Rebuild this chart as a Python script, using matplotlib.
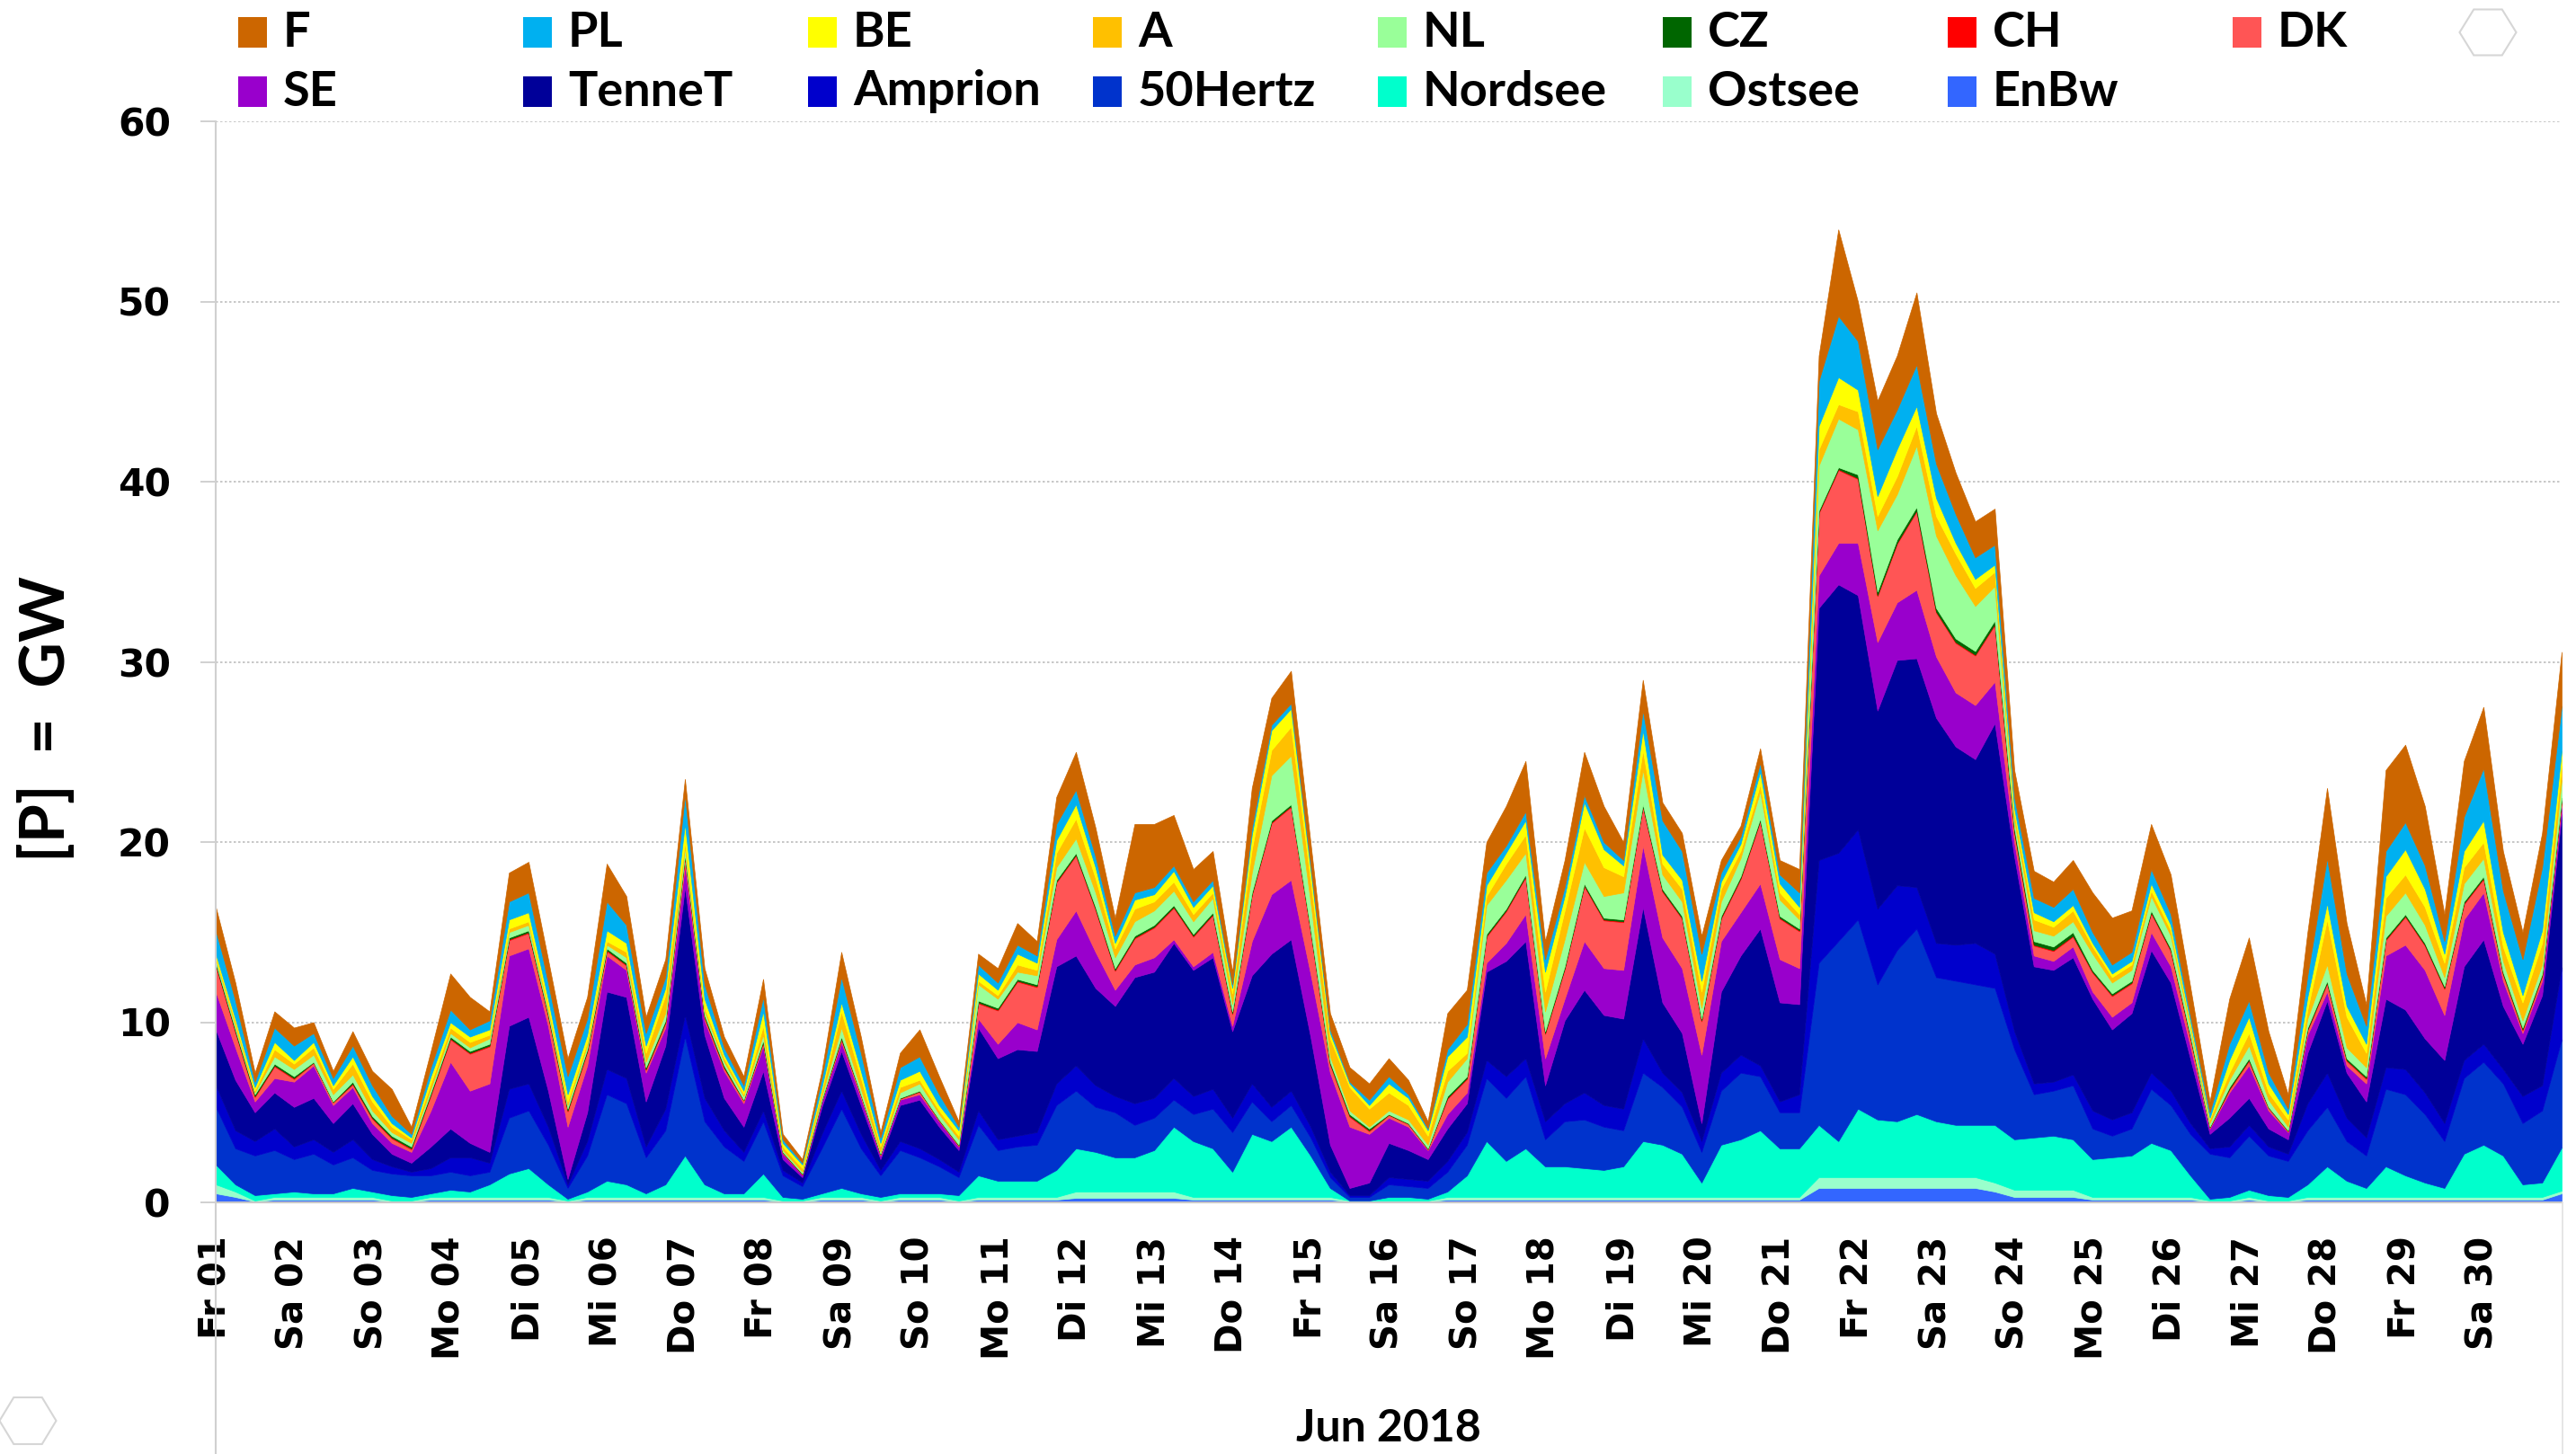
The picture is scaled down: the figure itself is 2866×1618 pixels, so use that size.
import pandas as pd
import matplotlib
matplotlib.use("Agg")
import matplotlib.pyplot as plt
from matplotlib.patches import Rectangle, Polygon
from matplotlib.lines import Line2D

# 6-hourly values in GW, 01.06.2018 00:00 .. 01.07.2018 00:00
times = pd.date_range("2018-06-01 00:00", "2018-07-01 00:00", freq="6h")

enbw = [
    .5, .3, .05, .15, .15, .15, .15, .15, .15, .05, .05, .15,
    .15, .15, .15, .15, .15, .15, .05, .15, .15, .15, .15, .15,
    .15, .15, .15, .15, .15, .05, .05, .15, .15, .15, .05, .15,
    .15, .15, .05, .15, .15, .15, .15, .15, .25, .25, .25, .25,
    .25, .25, .15, .15, .15, .15, .15, .15, .15, .15, .05, .05,
    .05, .05, .05, .15, .15, .15, .15, .15, .15, .15, .15, .15,
    .15, .15, .15, .15, .15, .15, .15, .15, .15, .15, .8, .8,
    .8, .8, .8, .8, .8, .8, .8, .6, .3, .3, .3, .3,
    .15, .15, .15, .15, .15, .15, .05, .05, .15, .05, .05, .15,
    .15, .15, .15, .15, .15, .15, .15, .15, .15, .15, .15, .15,
    .5]
ostsee = [
    .5, .3, .05, .15, .15, .15, .15, .15, .15, .05, .05, .15,
    .15, .15, .15, .15, .15, .15, .05, .15, .15, .15, .15, .15,
    .15, .15, .15, .15, .15, .05, .05, .15, .15, .15, .05, .15,
    .15, .15, .05, .15, .15, .15, .15, .15, .35, .35, .35, .35,
    .35, .35, .15, .15, .15, .15, .15, .15, .15, .15, .05, .05,
    .05, .05, .05, .15, .15, .15, .15, .15, .15, .15, .15, .15,
    .15, .15, .15, .15, .15, .15, .15, .15, .15, .15, .6, .6,
    .6, .6, .6, .6, .6, .6, .6, .5, .4, .4, .4, .4,
    .15, .15, .15, .15, .15, .15, .05, .05, .15, .05, .05, .15,
    .15, .15, .15, .15, .15, .15, .15, .15, .15, .15, .15, .15,
    .15]
nordsee = [
    1.1, 0.4, 0.3, 0.2, 0.3, 0.2, 0.2, 0.5, 0.3, 0.3, 0.2, 0.2,
    0.4, 0.3, 0.7, 1.3, 1.6, 0.7, 0.1, 0.3, 0.9, 0.7, 0.2, 0.7,
    2.3, 0.7, 0.2, 0.2, 1.3, 0.2, 0.1, 0.2, 0.5, 0.2, 0.2, 0.2,
    0.2, 0.2, 0.3, 1.2, 0.9, 0.9, 0.9, 1.5, 2.4, 2.2, 1.9, 1.9,
    2.3, 3.6, 3.1, 2.7, 1.4, 3.5, 3.1, 3.9, 2.3, 0.5, 0.0, 0.0,
    0.2, 0.2, 0.1, 0.3, 1.2, 3.1, 2.0, 2.7, 1.7, 1.7, 1.6, 1.5,
    1.7, 3.1, 2.9, 2.4, 0.8, 2.9, 3.2, 3.7, 2.7, 2.7, 2.9, 2.0,
    3.8, 3.2, 3.1, 3.5, 3.1, 2.9, 2.9, 3.2, 2.8, 2.9, 3.0, 2.8,
    2.1, 2.2, 2.3, 3.0, 2.6, 1.2, 0.1, 0.2, 0.4, 0.3, 0.2, 0.7,
    1.7, 0.9, 0.5, 1.7, 1.2, 0.8, 0.5, 2.4, 2.9, 2.3, 0.7, 0.8,
    2.4]
hertz50 = [
    3.2, 2.0, 2.2, 2.4, 1.8, 2.2, 1.6, 1.7, 1.2, 1.2, 1.2, 1.0,
    1.0, 0.9, 0.7, 3.1, 3.2, 2.2, 0.6, 2.0, 4.8, 4.5, 2.0, 3.0,
    6.6, 3.5, 2.6, 1.8, 2.9, 1.2, 0.7, 2.5, 4.4, 2.5, 1.2, 2.4,
    2.0, 1.5, 1.0, 2.8, 1.7, 1.9, 2.0, 3.6, 3.2, 2.5, 2.5, 1.8,
    1.8, 1.5, 1.5, 2.2, 2.2, 1.8, 1.1, 1.2, 1.0, 0.6, 0.2, 0.2,
    0.7, 0.6, 0.6, 1.1, 1.7, 3.5, 3.5, 4.0, 1.5, 2.5, 2.7, 2.4,
    2.0, 3.8, 3.2, 2.6, 1.7, 3.0, 3.7, 3.0, 2.0, 2.0, 9.0, 11.1,
    10.5, 7.5, 9.5, 10.3, 8.0, 8.0, 7.8, 7.6, 5.0, 2.4, 2.5, 3.0,
    1.7, 1.2, 1.5, 3.0, 2.5, 2.3, 2.5, 2.2, 3.0, 2.2, 2.0, 3.0,
    3.3, 2.2, 1.8, 4.3, 4.5, 3.8, 2.6, 4.2, 4.6, 4.0, 3.4, 4.0,
    6.0]
amprion = [
    1.2, 1.0, 0.8, 1.2, 0.7, 0.8, 0.7, 1.0, 0.6, 0.4, 0.2, 0.4,
    0.8, 1.0, 0.5, 1.6, 1.5, 1.0, 0.2, 0.8, 1.4, 1.4, 0.6, 1.2,
    1.2, 1.3, 0.9, 0.5, 0.6, 0.3, 0.2, 0.8, 1.0, 0.8, 0.3, 0.5,
    0.5, 0.4, 0.3, 0.8, 0.6, 0.6, 0.7, 1.2, 1.4, 1.2, 0.9, 1.2,
    1.1, 1.2, 1.0, 1.1, 0.8, 1.0, 0.8, 0.8, 0.6, 0.3, 0.1, 0.1,
    0.4, 0.4, 0.4, 0.6, 0.7, 1.0, 1.2, 1.0, 1.0, 1.0, 1.5, 1.2,
    1.2, 1.9, 0.8, 0.8, 0.6, 1.0, 1.0, 0.6, 0.6, 1.0, 5.7, 4.9,
    5.0, 4.2, 3.6, 2.3, 1.9, 2.0, 2.3, 1.9, 1.0, 0.6, 0.5, 0.6,
    1.0, 0.9, 0.9, 0.9, 0.8, 0.6, 0.3, 0.6, 0.6, 0.5, 0.4, 1.5,
    1.9, 1.3, 1.0, 1.2, 1.4, 1.2, 1.0, 1.0, 1.0, 0.8, 1.5, 1.4,
    4.0]
tennet = [
    3.1, 2.8, 1.6, 2.0, 2.2, 2.3, 1.6, 2.0, 1.4, 0.7, 0.5, 1.2,
    1.6, 0.8, 0.6, 3.5, 3.7, 2.0, 0.3, 1.6, 4.3, 4.5, 2.5, 3.5,
    7.1, 3.5, 1.8, 1.4, 2.2, 0.6, 0.3, 1.5, 2.2, 1.6, 0.6, 2.0,
    2.7, 1.8, 1.2, 4.6, 4.5, 4.8, 4.5, 6.5, 6.1, 5.4, 5.0, 7.0,
    7.0, 7.5, 7.0, 7.3, 4.8, 6.0, 8.5, 8.4, 5.0, 1.5, 0.4, 0.7,
    1.9, 1.6, 1.2, 1.8, 1.6, 4.9, 6.4, 6.5, 2.0, 4.6, 5.7, 5.0,
    5.0, 7.3, 3.9, 3.3, 1.0, 4.5, 5.5, 7.6, 5.5, 5.0, 14.0, 14.9,
    13.0, 11.0, 12.5, 12.7, 12.5, 11.0, 10.2, 12.8, 9.7, 6.5, 6.2, 6.5,
    6.2, 5.0, 5.5, 6.8, 6.0, 3.6, 0.8, 1.6, 1.5, 1.0, 0.8, 2.8,
    4.0, 2.5, 2.0, 3.8, 3.3, 3.0, 3.5, 5.2, 5.8, 3.5, 2.9, 5.0,
    8.5]
se = [
    2.1, 1.8, 0.6, 0.8, 1.4, 1.8, 1.0, 0.9, 0.6, 0.6, 0.6, 2.0,
    3.7, 2.9, 3.8, 3.9, 3.8, 3.6, 2.9, 2.6, 2.0, 1.5, 1.6, 1.0,
    1.2, 0.8, 1.5, 1.3, 1.4, 0.3, 0.15, 0.3, 0.5, 0.4, 0.2, 0.3,
    0.3, 0.3, 0.2, 0.5, 0.8, 1.5, 1.2, 1.5, 2.5, 2.0, 0.9, 0.7,
    0.8, 0.2, 0.2, 0.3, 0.3, 1.9, 3.3, 3.3, 3.5, 4.0, 3.4, 2.7,
    1.4, 1.3, 0.5, 0.8, 0.6, 0.5, 1.0, 1.5, 1.5, 1.2, 2.7, 2.6,
    2.7, 3.4, 3.6, 3.6, 3.8, 2.8, 2.4, 2.5, 2.4, 2.0, 1.8, 2.3,
    2.9, 3.8, 3.2, 3.8, 3.4, 3.0, 3.0, 2.3, 0.8, 0.6, 0.5, 0.6,
    0.4, 0.7, 0.6, 1.0, 0.9, 0.7, 0.3, 1.4, 1.8, 1.0, 0.4, 1.0,
    0.5, 0.4, 1.0, 2.4, 3.6, 3.8, 2.5, 2.6, 2.6, 1.4, 0.6, 0.8,
    0.5]
dk = [
    1.45, 0.85, 0.25, 0.65, 0.15, 0.15, 0.15, 0.15, 0.25, 0.25, 0.15, 0.85,
    1.25, 2.05, 2.05, 0.85, 0.85, 0.55, 0.85, 0.75, 0.25, 0.25, 0.15, 0.25,
    0.45, 0.15, 0.15, 0.15, 0.15, 0.05, 0.0, 0.05, 0.15, 0.15, 0.05, 0.05,
    0.15, 0.05, 0.05, 0.85, 1.85, 2.25, 2.35, 3.15, 3.05, 2.35, 1.05, 1.45,
    1.65, 1.75, 1.65, 2.05, 0.65, 2.55, 3.95, 4.05, 2.35, 0.45, 0.55, 0.15,
    0.15, 0.15, 0.05, 0.85, 0.75, 1.45, 1.75, 2.05, 1.35, 1.65, 3.05, 2.65,
    2.65, 2.15, 2.55, 2.75, 1.85, 1.25, 1.85, 3.45, 2.25, 2.05, 3.45, 4.05,
    3.55, 2.55, 3.25, 4.35, 2.45, 2.75, 2.75, 3.15, 0.55, 0.55, 0.55, 0.55,
    1.05, 1.15, 1.05, 1.05, 0.85, 0.45, 0.05, 0.15, 0.25, 0.15, 0.05, 0.25,
    0.45, 0.25, 0.25, 0.85, 1.55, 1.35, 1.45, 0.85, 0.75, 0.35, 0.15, 0.25,
    0.25]
ch = [
    .05, .05, .05, .05, .05, .02, .02, .05, .05, .05, .05, .05,
    .05, .05, .05, .05, .05, .05, .05, .05, .05, .05, .05, .05,
    .05, .05, .05, .02, .05, .02, .02, .02, .05, .02, .02, .02,
    .02, .02, .02, .05, .05, .05, .05, .05, .05, .05, .05, .05,
    .05, .05, .05, .05, .05, .05, .05, .05, .05, .05, .05, .05,
    .02, .02, .02, .05, .05, .05, .05, .05, .05, .05, .05, .05,
    .05, .05, .05, .05, .05, .05, .05, .05, .05, .05, .05, .05,
    .05, .05, .05, .05, .05, .05, .05, .05, .05, .05, .05, .05,
    .05, .05, .05, .05, .05, .05, .02, .05, .05, .02, .02, .05,
    .05, .05, .05, .05, .05, .05, .05, .05, .05, .05, .05, .05,
    .05]
cz = [
    .1, .1, .1, .1, .1, .03, .03, .1, .1, .1, .1, .1,
    .1, .1, .1, .1, .1, .1, .1, .1, .1, .1, .1, .1,
    .1, .1, .1, .03, .1, .03, .03, .03, .1, .03, .03, .03,
    .03, .03, .03, .1, .1, .1, .1, .1, .1, .1, .1, .1,
    .1, .1, .1, .1, .1, .1, .1, .1, .1, .1, .1, .1,
    .03, .03, .03, .1, .1, .1, .1, .1, .1, .1, .1, .1,
    .1, .1, .1, .1, .1, .1, .1, .1, .1, .1, .1, .1,
    .2, .2, .2, .2, .2, .2, .2, .2, .2, .2, .2, .2,
    .1, .1, .1, .1, .1, .1, .03, .1, .1, .03, .03, .1,
    .1, .1, .1, .1, .1, .1, .1, .1, .1, .1, .1, .1,
    .1]
nl = [
    0.2, 0.2, 0.1, 0.4, 0.4, 0.4, 0.4, 0.4, 0.3, 0.2, 0.2, 0.2,
    0.2, 0.2, 0.3, 0.3, 0.3, 0.2, 0.2, 0.2, 0.2, 0.3, 0.3, 0.4,
    0.4, 0.2, 0.2, 0.2, 0.3, 0.1, 0.1, 0.2, 0.5, 0.3, 0.1, 0.3,
    0.4, 0.3, 0.3, 0.9, 0.5, 0.4, 0.5, 0.7, 0.8, 0.8, 0.6, 0.8,
    0.8, 0.8, 0.7, 0.8, 0.4, 1.1, 2.5, 2.7, 1.5, 0.3, 0.2, 0.1,
    0.2, 0.2, 0.2, 0.8, 1.0, 1.6, 1.6, 1.2, 1.1, 1.5, 1.2, 1.2,
    1.5, 1.9, 0.8, 0.8, 0.6, 0.8, 1.0, 1.5, 0.9, 0.5, 2.5, 2.7,
    2.5, 3.4, 2.5, 3.4, 4.0, 3.5, 2.5, 1.9, 0.4, 0.6, 0.6, 0.6,
    0.9, 0.6, 0.6, 0.8, 0.7, 0.4, 0.2, 0.4, 0.7, 0.4, 0.2, 0.5,
    0.9, 0.6, 0.5, 1.2, 1.2, 1.0, 0.5, 1.0, 1.0, 0.6, 0.4, 0.5,
    1.0]
a = [
    0.1, 0.2, 0.1, 0.4, 0.3, 0.4, 0.3, 0.6, 0.5, 0.3, 0.2, 0.3,
    0.3, 0.3, 0.2, 0.2, 0.2, 0.2, 0.2, 0.2, 0.2, 0.3, 0.5, 1.0,
    0.3, 0.2, 0.2, 0.1, 0.5, 0.2, 0.2, 0.3, 0.9, 0.6, 0.3, 0.3,
    0.2, 0.2, 0.2, 0.2, 0.2, 0.4, 0.3, 0.8, 1.1, 0.8, 0.5, 0.7,
    0.5, 0.5, 0.4, 0.3, 0.6, 1.3, 1.4, 1.6, 1.2, 1.0, 1.3, 1.0,
    1.0, 0.8, 0.5, 0.6, 0.3, 0.5, 0.9, 1.0, 1.1, 1.6, 1.9, 1.6,
    0.9, 1.1, 0.6, 0.7, 0.9, 0.7, 0.4, 0.4, 0.4, 0.3, 0.9, 0.8,
    1.0, 0.8, 1.0, 1.1, 1.1, 1.2, 1.0, 0.8, 0.4, 0.6, 0.5, 0.6,
    0.4, 0.3, 0.3, 0.3, 0.3, 0.2, 0.2, 0.4, 0.7, 0.4, 0.4, 0.5,
    2.5, 1.7, 0.8, 1.0, 1.0, 1.0, 0.8, 0.9, 0.9, 0.8, 1.0, 1.2,
    0.8]
be = [
    0.2, 0.2, 0.2, 0.4, 0.2, 0.3, 0.2, 0.4, 0.3, 0.2, 0.1, 0.4,
    0.3, 0.3, 0.3, 0.5, 0.5, 0.4, 0.4, 0.4, 0.6, 0.5, 0.4, 0.4,
    1.0, 0.5, 0.2, 0.2, 0.8, 0.2, 0.2, 0.2, 0.5, 0.4, 0.2, 0.4,
    0.5, 0.3, 0.3, 0.4, 0.3, 0.6, 0.4, 0.7, 0.8, 0.6, 0.3, 0.5,
    0.4, 0.6, 0.4, 0.4, 0.3, 0.8, 1.1, 1.0, 0.6, 0.3, 0.2, 0.2,
    0.5, 0.4, 0.3, 0.8, 0.9, 0.6, 0.6, 0.8, 1.1, 0.8, 1.4, 1.0,
    0.6, 1.1, 0.5, 0.5, 0.6, 0.4, 0.4, 0.7, 0.5, 0.4, 1.3, 1.5,
    1.2, 1.1, 1.5, 1.1, 1.0, 0.6, 0.5, 0.4, 0.3, 0.4, 0.3, 0.3,
    0.2, 0.2, 0.2, 0.4, 0.3, 0.2, 0.1, 0.7, 0.9, 0.5, 0.3, 0.7,
    0.9, 0.6, 0.5, 1.2, 1.4, 1.0, 0.5, 0.9, 1.2, 0.8, 0.4, 0.7,
    0.8]
pl = [
    1.3, 1.0, 0.3, 0.8, 0.8, 0.5, 0.4, 0.6, 0.6, 0.4, 0.2, 0.5,
    0.7, 0.4, 0.5, 1.0, 1.1, 0.9, 1.0, 0.9, 1.6, 1.0, 0.7, 0.6,
    1.6, 0.8, 0.4, 0.3, 0.8, 0.2, 0.1, 0.5, 1.4, 1.0, 0.3, 0.7,
    0.8, 0.6, 0.2, 0.5, 0.4, 0.5, 0.4, 0.9, 0.8, 0.6, 0.4, 0.4,
    0.4, 0.3, 0.3, 0.3, 0.2, 0.4, 0.3, 0.3, 0.3, 0.2, 0.1, 0.3,
    0.4, 0.2, 0.1, 0.4, 0.7, 0.7, 0.4, 0.5, 0.7, 0.5, 0.4, 0.4,
    0.3, 1.1, 1.9, 1.6, 1.5, 0.5, 0.4, 0.5, 0.5, 0.8, 2.5, 3.4,
    2.7, 2.6, 2.2, 2.3, 1.9, 1.6, 1.2, 1.1, 0.6, 0.8, 0.8, 0.9,
    0.6, 0.5, 0.5, 0.8, 0.6, 0.3, 0.3, 0.9, 0.9, 0.6, 0.3, 1.2,
    2.5, 1.8, 1.0, 1.4, 1.5, 1.3, 0.7, 1.9, 2.9, 2.3, 2.0, 3.5,
    2.5]
f = [
    1.3, 1.0, 0.5, 0.9, 1.0, 0.6, 0.4, 0.8, 0.8, 1.5, 0.4, 0.9,
    2.0, 1.8, 0.5, 1.6, 1.7, 1.3, 1.0, 1.2, 2.1, 1.6, 0.9, 1.0,
    0.9, 0.9, 0.6, 0.5, 1.0, 0.3, 0.2, 0.4, 1.4, 0.9, 0.3, 0.8,
    1.5, 1.0, 0.3, 0.6, 0.8, 1.2, 0.8, 1.5, 2.1, 1.6, 1.0, 3.8,
    3.5, 2.8, 1.8, 1.6, 0.7, 2.2, 1.5, 1.8, 1.2, 0.9, 0.8, 0.9,
    1.0, 0.8, 0.4, 2.0, 1.9, 1.7, 2.2, 2.8, 1.0, 1.5, 2.4, 2.0,
    1.0, 1.7, 1.0, 1.0, 1.0, 0.7, 0.6, 0.8, 0.8, 1.3, 1.4, 4.8,
    2.2, 2.7, 3.0, 4.0, 2.8, 2.3, 2.0, 2.0, 1.5, 1.5, 1.4, 1.6,
    2.2, 2.6, 2.3, 2.5, 2.2, 1.6, 0.6, 2.5, 3.5, 2.3, 0.8, 2.4,
    3.9, 2.8, 1.2, 4.5, 4.3, 3.3, 1.5, 3.1, 3.4, 2.2, 1.5, 1.9,
    3.0]

# stacking order bottom -> top
names = ["EnBw", "Ostsee", "Nordsee", "50Hertz", "Amprion", "TenneT", "SE",
         "DK", "CH", "CZ", "NL", "A", "BE", "PL", "F"]
layers = [enbw, ostsee, nordsee, hertz50, amprion, tennet, se,
          dk, ch, cz, nl, a, be, pl, f]
colors = {"EnBw": "#3366FF", "Ostsee": "#99FFCC", "Nordsee": "#00FFCC",
          "50Hertz": "#0033CC", "Amprion": "#0000CC", "TenneT": "#000099",
          "SE": "#9900CC", "DK": "#FF5555", "CH": "#FF0000", "CZ": "#006600",
          "NL": "#99FF99", "A": "#FFC000", "BE": "#FFFF00", "PL": "#00B0F0",
          "F": "#CC6600"}

legend_row1 = ["F", "PL", "BE", "A", "NL", "CZ", "CH", "DK"]
legend_row2 = ["SE", "TenneT", "Amprion", "50Hertz", "Nordsee", "Ostsee", "EnBw"]

weekdays = ["Mo", "Di", "Mi", "Do", "Fr", "Sa", "So"]
days = pd.date_range("2018-06-01", "2018-06-30", freq="D")
day_labels = [f"{weekdays[d.weekday()]} {d.day:02d}" for d in days]

W, H = 2866, 1618
label_font = ["Lato", "DejaVu Sans"]
grey = "#c8c8c8"

fig = plt.figure(figsize=(W / 100, H / 100), dpi=100)
ax = fig.add_axes([240 / W, 1 - 1338 / H, (2850 - 240) / W, (1338 - 135) / H])

ax.stackplot(times, *layers, colors=[colors[n] for n in names],
             linewidth=0.5, edgecolor="face")

ax.set_xlim(times[0], times[-1])
ax.set_ylim(0, 60)
ax.set_yticks(range(0, 61, 10))
ax.set_xticks(days)
ax.set_xticklabels(day_labels, rotation=90, fontsize=29, fontweight="bold",
                   family="DejaVu Sans")
for lbl in ax.get_yticklabels():
    lbl.set_fontweight("bold")
    lbl.set_fontsize(30.5)
    lbl.set_family("DejaVu Sans")
ax.tick_params(axis="x", length=0, pad=27)
ax.tick_params(axis="y", length=12, width=1.2, color=grey, pad=24)

ax.set_axisbelow(True)
ax.yaxis.grid(True, color="#bdbdbd", linestyle=(0, (1.5, 1.5)), linewidth=1.2)
for side in ["top", "right", "left"]:
    ax.spines[side].set_visible(False)
ax.spines["bottom"].set_color(grey)
ax.spines["bottom"].set_linewidth(1.5)

# long vertical axis lines reaching the bottom of the picture
fig.add_artist(Line2D([240 / W, 240 / W], [0, 1 - 135 / H],
                      transform=fig.transFigure, color="#d0d0d0", lw=1.5))
fig.add_artist(Line2D([2851 / W, 2851 / W], [0, 1 - 1338 / H],
                      transform=fig.transFigure, color="#e0e0e0", lw=1.2))

# axis titles
fig.text(52 / W, 1 - 800 / H, "[P]  =  GW", rotation=90, ha="center", va="center",
         fontsize=50, fontweight="bold", family=label_font)
fig.text(1545 / W, 1 - 1589 / H, "Jun 2018", ha="center", va="center",
         fontsize=36, fontweight="bold", family=label_font)

# legend in two rows with evenly spaced columns
for row, (entries, yc) in enumerate([(legend_row1, 36), (legend_row2, 102)]):
    for i, name in enumerate(entries):
        x0 = 265 + 317 * i
        fig.add_artist(Rectangle((x0 / W, 1 - (yc + 17) / H), 32 / W, 34 / H,
                                 transform=fig.transFigure,
                                 facecolor=colors[name], edgecolor="none"))
        fig.text((x0 + 50) / W, 1 - yc / H, name, ha="left", va="center",
                 fontsize=39, fontweight="bold", family=label_font)

# small decorative hexagons
for cx, cy, w, h in [(2768, 36, 63, 51), (31, 1581, 63, 52)]:
    pts = [(cx - w / 2, cy), (cx - w / 4, cy - h / 2), (cx + w / 4, cy - h / 2),
           (cx + w / 2, cy), (cx + w / 4, cy + h / 2), (cx - w / 4, cy + h / 2)]
    pts = [(px / W, 1 - py / H) for px, py in pts]
    fig.add_artist(Polygon(pts, closed=True, transform=fig.transFigure,
                           facecolor="white", edgecolor="#d6d6d6", lw=1.5))

fig.savefig("out.png", dpi=100)
